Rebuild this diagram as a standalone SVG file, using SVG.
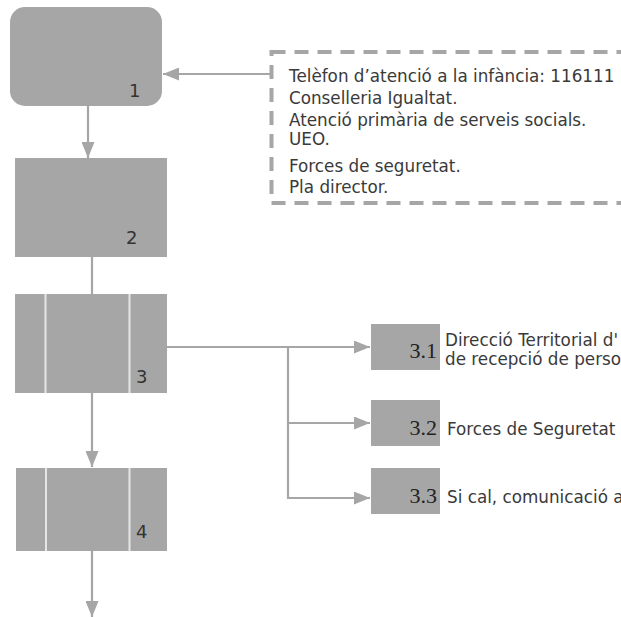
<svg xmlns="http://www.w3.org/2000/svg" width="621" height="617" viewBox="0 0 621 617">
<style>
.box{fill:#a6a6a6;}
.div{stroke:#e6e6e6;stroke-width:2;}
.num{font-family:"DejaVu Sans",sans-serif;font-size:18px;fill:#333;}
.sub{font-family:"Liberation Serif",serif;font-size:22px;fill:#222;text-anchor:end;}
.txt{font-family:"DejaVu Sans",sans-serif;font-size:16.8px;fill:#3a3a3a;}
.conn{stroke:#a6a6a6;stroke-width:2.2;fill:none;}
.dash{stroke:#a6a6a6;stroke-width:4;fill:none;stroke-dasharray:14 9;}
</style>
<defs>
<marker id="ah" markerWidth="16" markerHeight="13" refX="16" refY="6.5" orient="auto" markerUnits="userSpaceOnUse">
<path d="M0,0 L16,6.5 L0,13 Z" fill="#a6a6a6"/>
</marker>
</defs>
<rect width="621" height="617" fill="#ffffff"/>
<g id="connectors">
<line class="conn" x1="88" y1="106" x2="88" y2="158" marker-end="url(#ah)"/>
<line class="conn" x1="92" y1="257" x2="92" y2="294"/>
<line class="conn" x1="92" y1="393" x2="92" y2="467" marker-end="url(#ah)"/>
<line class="conn" x1="92" y1="551" x2="92" y2="617" marker-end="url(#ah)"/>
<line class="conn" x1="271" y1="74" x2="163" y2="74" marker-end="url(#ah)"/>
<line class="conn" x1="167" y1="347" x2="370" y2="347" marker-end="url(#ah)"/>
<polyline class="conn" points="288,347 288,498 370,498" marker-end="url(#ah)"/>
<line class="conn" x1="288" y1="423" x2="370" y2="423" marker-end="url(#ah)"/>
</g>
<g id="node-legend">
<rect class="dash" x="271.5" y="52" width="380" height="151"/>
<text class="txt" x="289" y="82">Telèfon d’atenció a la infància: 116111</text>
<text class="txt" x="289" y="104">Conselleria Igualtat.</text>
<text class="txt" x="289" y="126">Atenció primària de serveis socials.</text>
<text class="txt" x="289" y="145">UEO.</text>
<text class="txt" x="289" y="172">Forces de seguretat.</text>
<text class="txt" x="289" y="193">Pla director.</text>
</g>
<g id="node-1">
<rect class="box" x="10" y="7" width="152" height="99" rx="15" ry="15"/>
<text class="num" x="129" y="97">1</text>
</g>
<g id="node-2">
<rect class="box" x="15" y="158" width="152" height="99"/>
<text class="num" x="126" y="244">2</text>
</g>
<g id="node-3">
<rect class="box" x="15" y="294" width="152" height="99"/>
<line class="div" x1="45.5" y1="294" x2="45.5" y2="393"/>
<line class="div" x1="129.5" y1="294" x2="129.5" y2="393"/>
<text class="num" x="136" y="383">3</text>
</g>
<g id="node-4">
<rect class="box" x="16" y="468" width="151" height="83"/>
<line class="div" x1="46" y1="468" x2="46" y2="551"/>
<line class="div" x1="129.5" y1="468" x2="129.5" y2="551"/>
<text class="num" x="136" y="538">4</text>
</g>
<g id="node-3-1">
<rect class="box" x="371" y="324" width="69" height="46"/>
<text class="sub" x="437" y="358">3.1</text>
<text class="txt" x="445" y="346">Direcció Territorial d'</text>
<text class="txt" x="445" y="365">de recepció de perso</text>
</g>
<g id="node-3-2">
<rect class="box" x="371" y="400" width="69" height="46"/>
<text class="sub" x="437" y="435">3.2</text>
<text class="txt" x="447" y="435">Forces de Seguretat</text>
</g>
<g id="node-3-3">
<rect class="box" x="371" y="468" width="69" height="46"/>
<text class="sub" x="437" y="503">3.3</text>
<text class="txt" x="447" y="503">Si cal, comunicació a</text>
</g>
</svg>
